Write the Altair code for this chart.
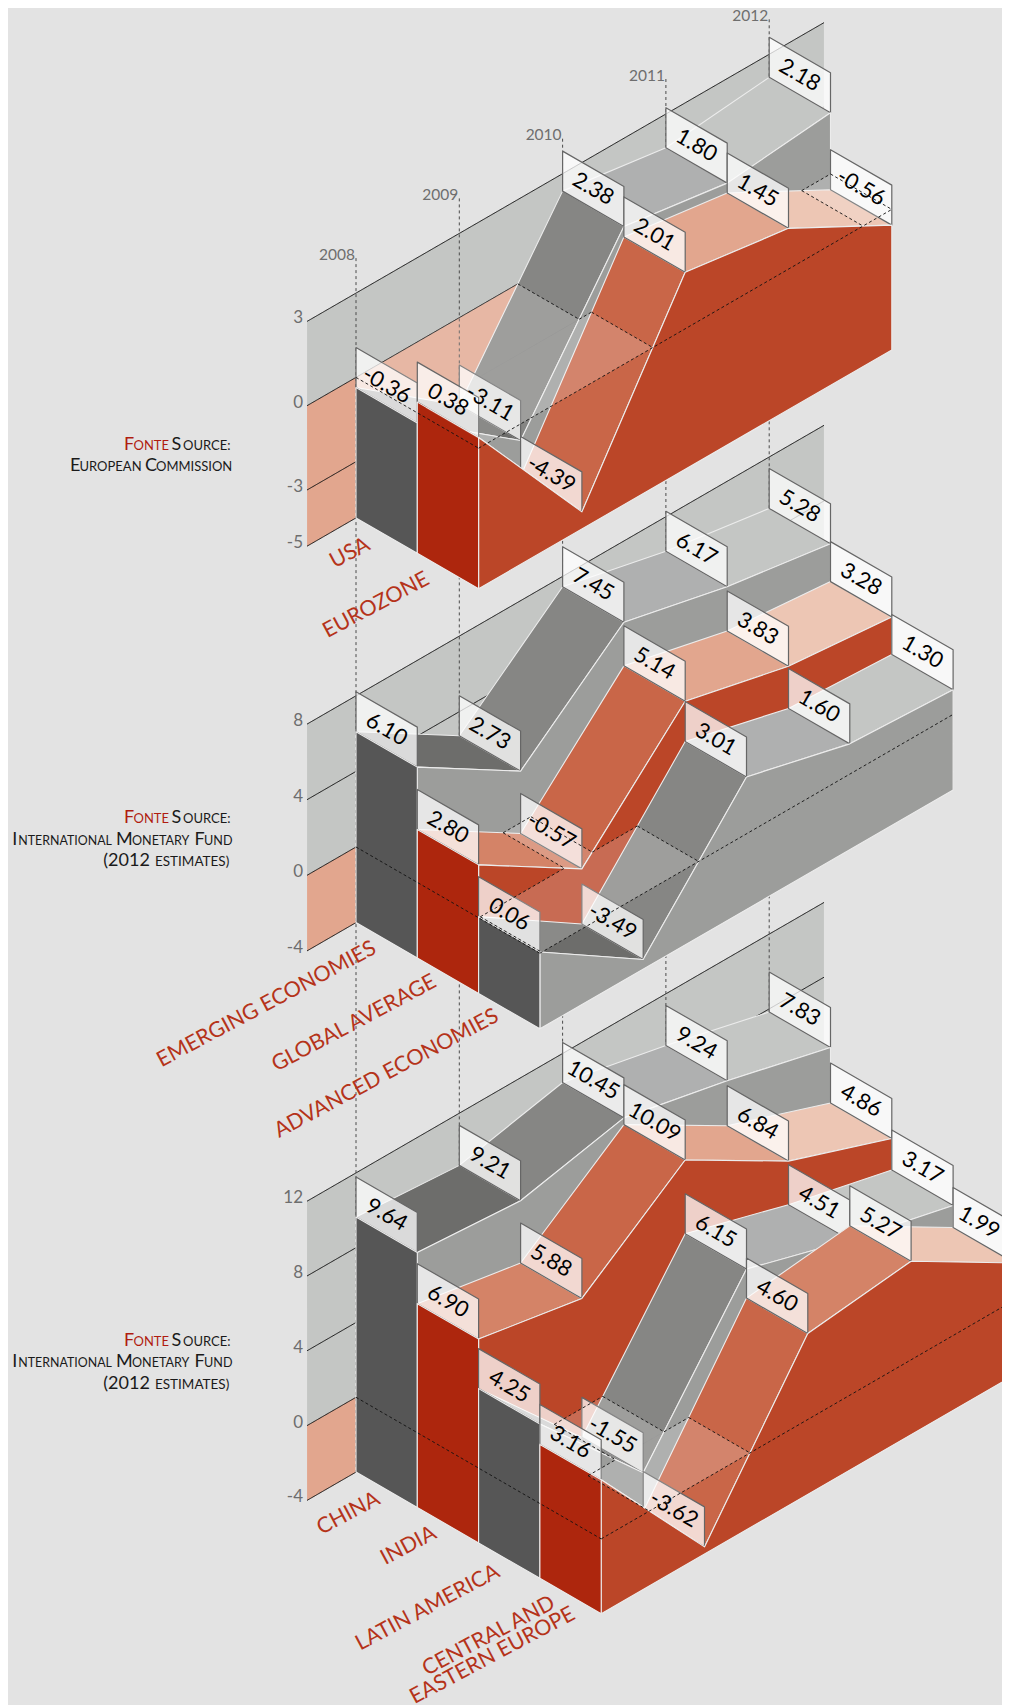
import altair as alt
import pandas as pd

years = ["2008", "2009", "2010", "2011", "2012"]

usa = [-0.36, -3.11, 2.38, 1.80, 2.18]
eurozone = [0.38, -4.39, 2.01, 1.45, -0.56]

emerging = [6.10, 2.73, 7.45, 6.17, 5.28]
global_avg = [2.80, -0.57, 5.14, 3.83, 3.28]
advanced = [0.06, -3.49, 3.01, 1.60, 1.30]

china = [9.64, 9.21, 10.45, 9.24, 7.83]
india = [6.90, 5.88, 10.09, 6.84, 4.86]
latin = [4.25, -1.55, 6.15, 4.51, 3.17]
cee = [3.16, -3.62, 4.60, 5.27, 1.99]

ticks_top = [3, 0, -3, -5]
ticks_mid = [8, 4, 0, -4]
ticks_bot = [12, 8, 4, 0, -4]

GREY = ["#6d6d6b", "#868684", "#afb0b0", "#c4c6c4"]
RED = ["#d48367", "#c96648", "#e2a68e", "#edc6b4"]
RED_B = ["#d48367", "#c96648", "#d48367", "#edc6b4"]
STY = {
    "g": (GREY, "#9c9d9b", "#565656"),
    "r": (RED, "#bb4628", "#ad260d"),
    "R": (RED_B, "#bb4628", "#ad260d"),
}

panels = [
    dict(y0=377.4, k=28.1, ticks=ticks_top, series=[usa, eurozone], sty="gr"),
    dict(y0=847.0, k=18.9, ticks=ticks_mid, series=[emerging, global_avg, advanced], sty="grg"),
    dict(y0=1397.3, k=18.7, ticks=ticks_bot, series=[china, india, latin, cee], sty="grgR"),
]

cats = [
    (0, 0.5, "USA", -18, 8), (0, 1.5, "EUROZONE", -20, 7),
    (1, 0.5, "EMERGING ECONOMIES", -12, 7), (1, 1.5, "GLOBAL AVERAGE", -13, 5),
    (1, 2.5, "ADVANCED ECONOMIES", -12, 4),
    (2, 0.5, "CHINA", -8, 8), (2, 1.5, "INDIA", -13, 7),
    (2, 2.5, "LATIN AMERICA", -11, 10),
    (2, 3.5, "CENTRAL AND", -17, 6), (2, 3.5, "EASTERN EUROPE", 3, 17),
]

RED_TXT, INK = "#b01c10", "#1a1a1a"
CAP_FONT = "Lato"
BIG, SMALL = 18, 13
captions = [
    ("F", 124, 450, BIG, RED_TXT), ("ONTE", 133.5, 450, SMALL, RED_TXT),
    ("S", 171.5, 450, BIG, INK), ("OURCE:", 183, 450, SMALL, INK),
    ("E", 70, 470.7, BIG, INK), ("UROPEAN", 79.5, 470.7, SMALL, INK),
    ("C", 145, 470.7, BIG, INK), ("OMMISSION", 156, 470.7, SMALL, INK),
]
for base in (823.3, 1345.7):
    captions += [
        ("F", 124, base, BIG, RED_TXT), ("ONTE", 133.5, base, SMALL, RED_TXT),
        ("S", 171.5, base, BIG, INK), ("OURCE:", 183, base, SMALL, INK),
        ("I", 12.3, base + 21.7, BIG, INK), ("NTERNATIONAL", 18.3, base + 21.7, 12.4, INK),
        ("M", 116, base + 21.7, BIG, INK), ("ONETARY", 132, base + 21.7, 12.6, INK),
        ("F", 194.5, base + 21.7, BIG, INK), ("UND", 204, base + 21.7, 12.6, INK),
        ("(2012", 103.3, base + 43, BIG, INK), ("ESTIMATES)", 155, base + 43, 13.5, INK),
    ]

# isometric projection
X0, DXT, DXS, DYT, DYS = 356.0, 103.3, 61.3, -59.7, 35.4
T_MIN, T_MAX, TAG_H = -0.474, 4.53, 40.0
LABEL_X_MAX = 979.0


def proj(p, t, s, v):
    return (X0 + DXT * t + DXS * s, p["y0"] + DYT * t + DYS * s - p["k"] * v)


def neg_intervals(vals):
    out, start = [], 0.0 if vals[0] < 0 else None
    for i in range(4):
        a, b = vals[i], vals[i + 1]
        if a * b < 0:
            c = i + a / (a - b)
            if b < 0:
                start = c
            else:
                out.append((start, c))
                start = None
    if start is not None:
        out.append((start, 4.0))
    return out


polys, pid = [], 0


def add(rows, pts, fill, stroke, sw):
    global pid
    pid += 1
    name = f"p{pid:05d}"
    for i, (x, y) in enumerate(list(pts) + [pts[0]]):
        rows.append(dict(pid=name, i=i, x=x, y=y, f=fill, st=stroke, sw=sw))


back_rows, grid_rows, year_rows, zero_rows = [], [], [], []
value_rows, tick_rows = [], []
LINE, TAGLINE = "#ececec", "#666666"
seg = [0]


def line(rows, a, b):
    seg[0] += 1
    for i, pt in enumerate((a, b)):
        rows.append(dict(pid=f"l{seg[0]:05d}", i=i, x=pt[0], y=pt[1]))


for p in panels:
    n = len(p["series"])
    top, bot = p["ticks"][0], p["ticks"][-1]
    p["bot"] = bot
    add(back_rows, [proj(p, T_MIN, 0, 0), proj(p, T_MAX, 0, 0), proj(p, T_MAX, 0, top), proj(p, T_MIN, 0, top)],
        "#c4c6c4", "none", 0)
    add(back_rows, [proj(p, T_MIN, 0, bot), proj(p, T_MAX, 0, bot), proj(p, T_MAX, 0, 0), proj(p, T_MIN, 0, 0)],
        "#e2a68e", "none", 0)
    for v in p["ticks"]:
        line(grid_rows, proj(p, T_MIN, 0, v), proj(p, T_MAX, 0, v))
        x, y = proj(p, T_MIN, 0, v)
        tick_rows.append(dict(x=x - 4, y=y - 3, label=str(v)))

    ints = [neg_intervals(vals) for vals in p["series"]]
    for s, vals in enumerate(p["series"]):
        surf, wall, face = STY[p["sty"][s]]
        for t in range(3, -1, -1):
            add(polys, [proj(p, t, s, vals[t]), proj(p, t, s + 1, vals[t]),
                        proj(p, t + 1, s + 1, vals[t + 1]), proj(p, t + 1, s, vals[t + 1])],
                surf[t], LINE, 1.1)
        for t in range(5):
            a, b = proj(p, t, s, vals[t]), proj(p, t, s + 1, vals[t])
            add(polys, [a, b, (b[0], b[1] - TAG_H), (a[0], a[1] - TAG_H)],
                "rgba(255,255,255,0.75)", TAGLINE, 1.2)
            cx, cy = (a[0] + b[0]) / 2, (a[1] + b[1]) / 2 - TAG_H / 2
            if cx > LABEL_X_MAX:  # keep the whole label inside the plot area
                cy -= (cx - LABEL_X_MAX) * DYS / DXS
                cx = LABEL_X_MAX
            value_rows.append(dict(x=cx, y=cy, label=f"{vals[t]:.2f}"))
        edge = [proj(p, t, s + 1, vals[t]) for t in range(5)]
        add(polys, edge + [proj(p, 4, s + 1, bot), proj(p, 0, s + 1, bot)], wall, LINE, 1.1)
        add(polys, [proj(p, 0, s, vals[0]), proj(p, 0, s + 1, vals[0]),
                    proj(p, 0, s + 1, bot), proj(p, 0, s, bot)], face, LINE, 1.1)
        for a, b in ints[s]:
            add(polys, [proj(p, a, s, 0), proj(p, a, s + 1, 0), proj(p, b, s + 1, 0), proj(p, b, s, 0)],
                "rgba(255,255,255,0.2)", "none", 0)

    # outline of the zero plane
    line(zero_rows, proj(p, 0, 0, 0), proj(p, 0, n, 0))
    line(zero_rows, proj(p, 0, n, 0), proj(p, 4, n, 0))
    for s in range(n):
        for a, b in ints[s]:
            if 0 < a and not (p is panels[0] and a < 0.1):
                line(zero_rows, proj(p, a, s, 0), proj(p, a, s + 1, 0))
            line(zero_rows, proj(p, b, s, 0), proj(p, b, s + 1, 0))
    for s in range(1, n):
        marks = sorted({x for iv in ints[s - 1] + ints[s] for x in iv})
        for a, b in zip(marks, marks[1:]):
            m = (a + b) / 2
            l = any(i <= m <= j for i, j in ints[s - 1])
            r = any(i <= m <= j for i, j in ints[s])
            if l != r and not (p is panels[0] and b < 0.1):
                line(zero_rows, proj(p, a, s, 0), proj(p, b, s, 0))

year_txt = []
for t, yr in enumerate(years):
    x, y = proj(panels[0], t, 0, panels[0]["ticks"][0])
    _, yb = proj(panels[2], t, 0, panels[2]["bot"])
    line(year_rows, (x, y - 35), (x, yb))
    year_txt.append(dict(x=x - 1, y=y - 33.5, label=yr))

cat_rows = []
for pi, s, label, ox, oy in cats:
    p = panels[pi]
    x, y = proj(p, 0, s, p["bot"])
    cat_rows.append(dict(x=x + ox, y=y + oy, label=label))

cap_rows = [dict(label=a, x=b, y=c, size=d, color=e) for a, b, c, d, e in captions]

# the plot area starts 8px into the page: the domains are the page's own pixels
X = alt.X("x:Q", scale=alt.Scale(domain=[8, 1002], nice=False, zero=False), axis=None)
Y = alt.Y("y:Q", scale=alt.Scale(domain=[1705, 8], nice=False, zero=False), axis=None)


def poly_layer(rows):
    return alt.Chart(pd.DataFrame(rows)).mark_line(clip=True, strokeJoin="round", strokeCap="round").encode(
        x=X, y=Y, detail="pid:N", order="i:Q",
        fill=alt.Fill("f:N", scale=None),
        stroke=alt.Stroke("st:N", scale=None),
        strokeWidth=alt.StrokeWidth("sw:Q", scale=None),
    )


def line_layer(rows, color, width, dash):
    return alt.Chart(pd.DataFrame(rows)).mark_line(
        clip=True, color=color, strokeWidth=width, strokeDash=dash
    ).encode(x=X, y=Y, detail="pid:N", order="i:Q")


def text_layer(rows, **kw):
    return alt.Chart(pd.DataFrame(rows)).mark_text(**kw).encode(x=X, y=Y, text="label:N")


captions_layer = alt.Chart(pd.DataFrame(cap_rows)).mark_text(
    font=CAP_FONT, align="left", baseline="alphabetic"
).encode(
    x=X, y=Y, text="label:N",
    size=alt.Size("size:Q", scale=None),
    color=alt.Color("color:N", scale=None),
)

chart = alt.layer(
    poly_layer(back_rows),
    line_layer(grid_rows, "#111111", 1.0, [1, 0]),
    line_layer(year_rows, "#4a4a4a", 1.0, [3, 3]),
    poly_layer(polys),
    line_layer(zero_rows, "#111111", 0.9, [3, 2.5]),
    text_layer(value_rows, font="Lato", fontSize=22, angle=30, color="#000000", align="center", baseline="middle"),
    text_layer(tick_rows, font="Lato", fontSize=17, color="#6e6e6e", align="right", baseline="middle"),
    text_layer(year_txt, font="Lato", fontSize=15.5, color="#6e6e6e", align="right", baseline="alphabetic"),
    text_layer(cat_rows, font="Lato", fontSize=21.5, angle=332, color="#b5331a", align="right", baseline="middle"),
    captions_layer,
).properties(
    width=994, height=1697, padding=0,
    autosize=alt.AutoSizeParams(type="none"),
    background="#e3e3e3",
).configure_view(stroke=None)

chart.save("out.html", embed_options={"renderer": "svg", "actions": False})
